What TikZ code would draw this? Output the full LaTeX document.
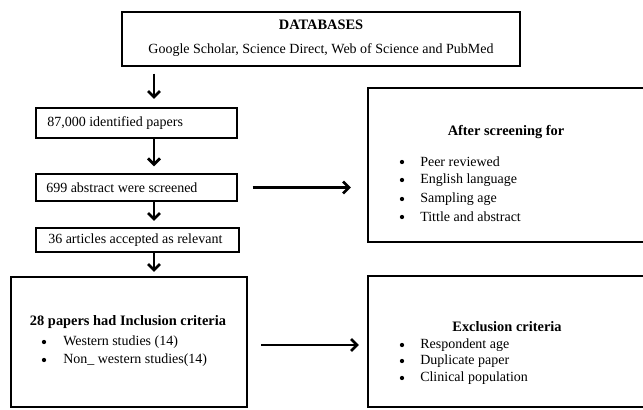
\documentclass[tikz,border=0pt]{standalone}
\usepackage{fontspec}
\setmainfont{Liberation Serif}
\usetikzlibrary{arrows.meta}
\begin{document}
\begin{tikzpicture}[x=0.75pt,y=-0.75pt,
  box/.style={draw, line width=1.6pt, inner sep=0pt},
  txt/.style={font=\fontsize{10.5}{12}\selectfont, inner sep=0pt},
  ttl/.style={font=\fontsize{10.8}{12}\selectfont\bfseries, inner sep=0pt},
  lft/.style={txt, anchor=west},
  dot/.style={circle, fill, inner sep=0pt, minimum size=3.2pt},
  arr/.style={-{Straight Barb[length=4.5pt,width=9pt]}, line width=2pt}]
\useasboundingbox (0,0) rectangle (643,410);

% boxes
\node[box, minimum width=298.5pt, minimum height=40.5pt] (db) at (321,39) {};
\node[box, minimum width=150.75pt, minimum height=22.5pt] (p1) at (136.5,123) {};
\node[box, minimum width=150.75pt, minimum height=20.25pt] (p2) at (136.5,187.5) {};
\node[box, minimum width=152.25pt, minimum height=18pt] (p3) at (137.5,240) {};
\node[box, minimum width=177pt, minimum height=97.5pt] (p4) at (129,342) {};
\node[box, minimum width=207.75pt, minimum height=115.5pt] (after) at (506.5,165) {};
\node[box, minimum width=207.75pt, minimum height=98.25pt] (excl) at (506.5,341.5) {};

% texts
\node[ttl] (dbt) at (321,25) {DATABASES};
\node[txt] (dbs) at (321,50) {Google Scholar, Science Direct, Web of Science and PubMed};
\node[lft] (p1t) at (47,123) {87,000 identified papers};
\node[lft] (p2t) at (46,187.5) {699 abstract were screened};
\node[lft] (p3t) at (48,240) {36 articles accepted as relevant};

\node[ttl] (p4t) at (128,322) {28 papers had Inclusion criteria};
\node[dot] (p4b1) at (44,342) {};
\node[lft] (p4i1) at (63,342) {Western studies (14)};
\node[dot] (p4b2) at (44,360) {};
\node[lft] (p4i2) at (63,360) {Non\_ western studies(14)};

\node[ttl] (aftt) at (506,132) {After screening for};
\node[dot] (ab1) at (402,162) {};
\node[lft] (ai1) at (420,162) {Peer reviewed};
\node[dot] (ab2) at (402,180) {};
\node[lft] (ai2) at (420,180) {English language};
\node[dot] (ab3) at (402,199) {};
\node[lft] (ai3) at (420,199) {Sampling age};
\node[dot] (ab4) at (402,217) {};
\node[lft] (ai4) at (420,217) {Tittle and abstract};

\node[ttl] (exct) at (507,327) {Exclusion criteria};
\node[dot] (eb1) at (402,345) {};
\node[lft] (ei1) at (420,345) {Respondent age};
\node[dot] (eb2) at (402,361) {};
\node[lft] (ei2) at (420,361) {Duplicate paper};
\node[dot] (eb3) at (402,378) {};
\node[lft] (ei3) at (420,378) {Clinical population};

% connectors
\coordinate (ax) at (154,0);
\draw[arr, shorten <=5pt, shorten >=6pt] (db.south -| ax) -- (p1.north -| ax);
\draw[arr, shorten >=5pt] (p1.south -| ax) -- (p2.north -| ax);
\draw[arr, shorten >=4.5pt] (p2.south -| ax) -- (p3.north -| ax);
\draw[arr, shorten >=3pt] (p3.south -| ax) -- (p4.north -| ax);
\draw[arr, shorten <=11pt, shorten >=12pt] (p2.east) -- (p2.east -| after.west);
\draw[arr, shorten <=9.75pt, shorten >=6pt] ([yshift=-2.25pt]p4.east) -- ([yshift=-2.25pt]p4.east -| excl.west);
\end{tikzpicture}
\end{document}
